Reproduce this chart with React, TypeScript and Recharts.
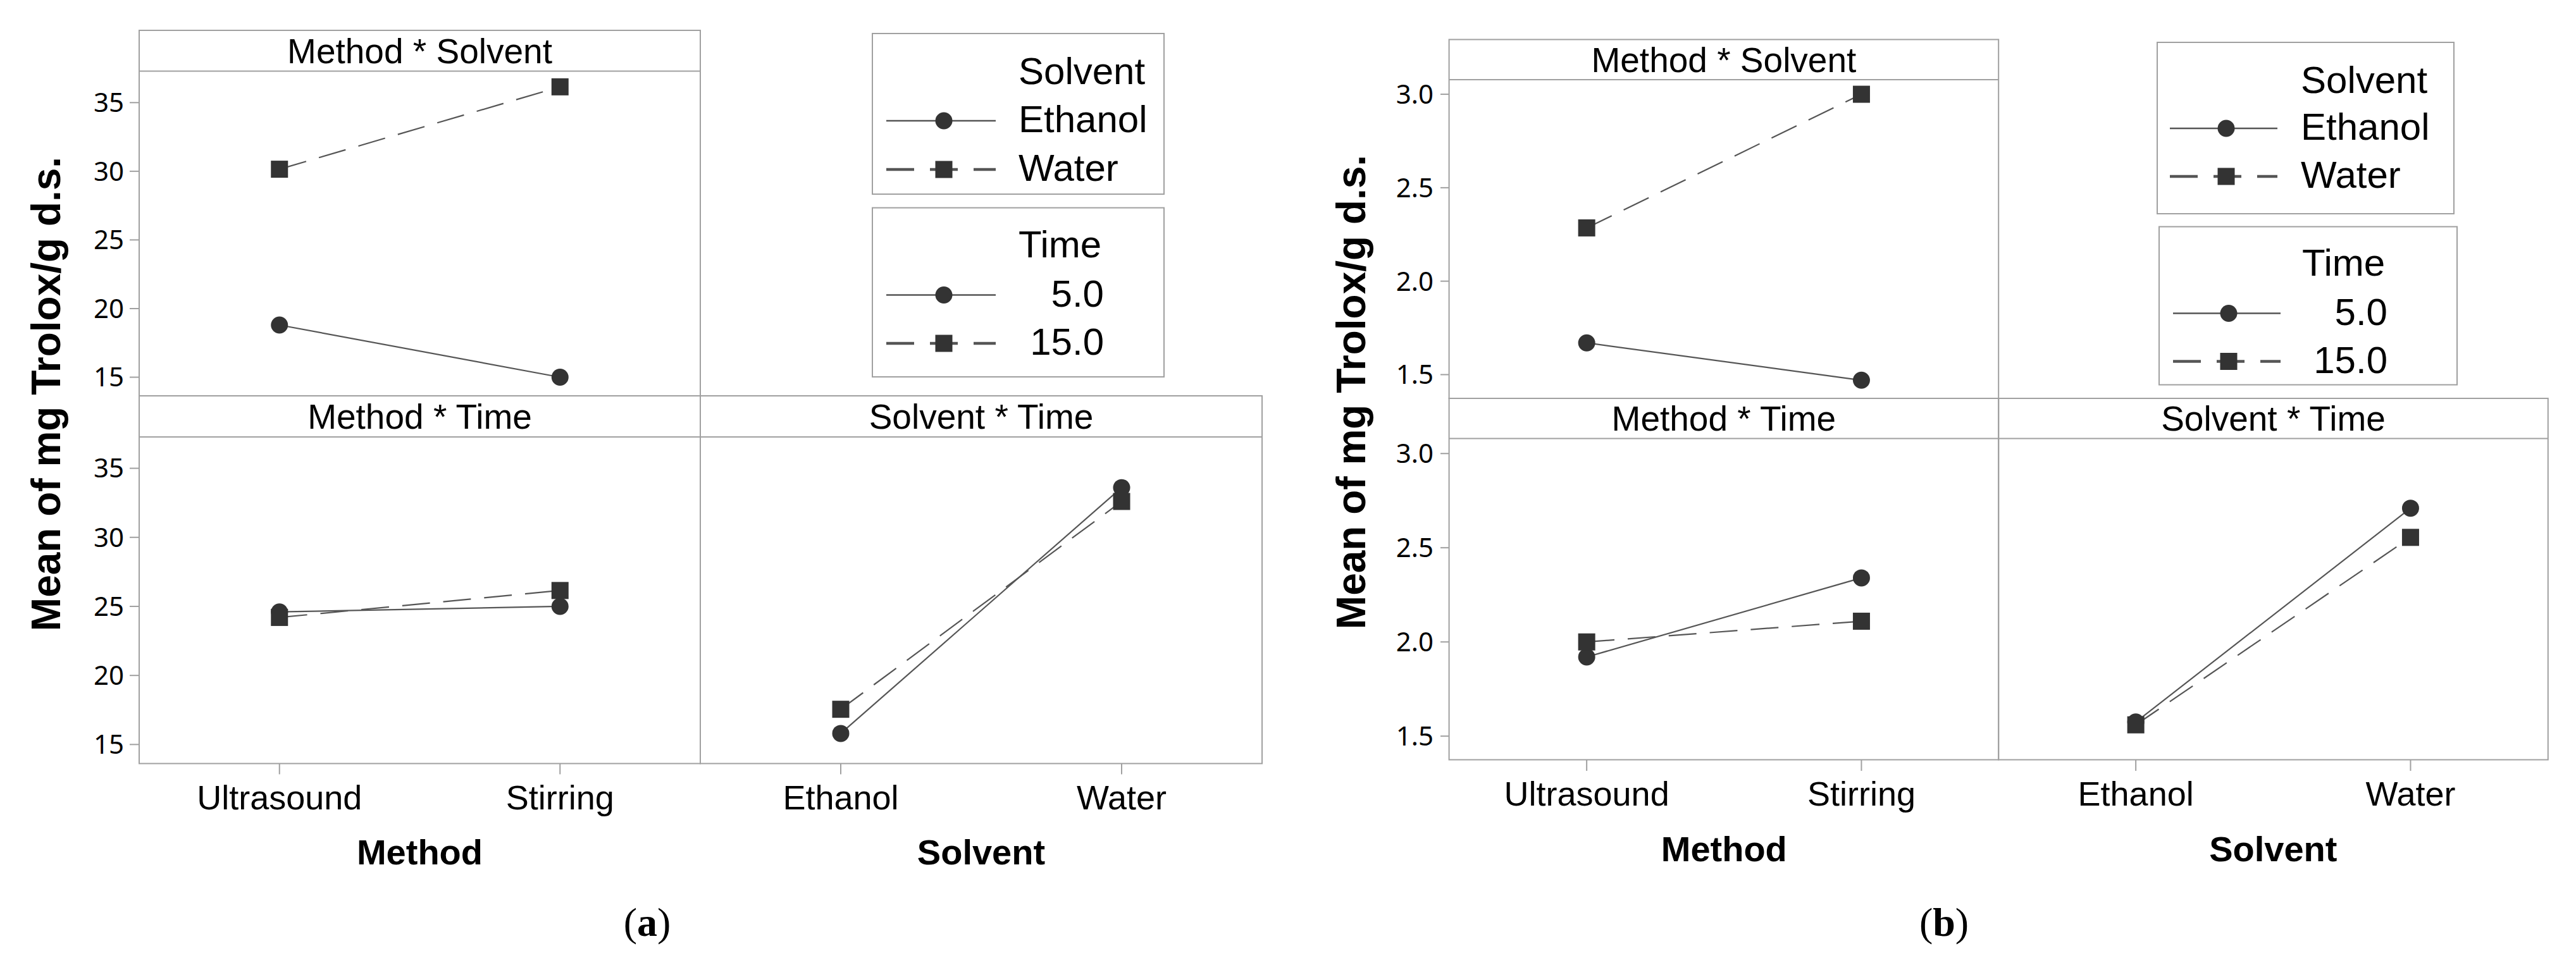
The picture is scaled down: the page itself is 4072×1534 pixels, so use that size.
import React from "react";
import { LineChart, Line, XAxis, YAxis } from "recharts";

// categories
const METHODS = ["Ultrasound", "Stirring"];
const SOLVENTS = ["Ethanol", "Water"];

// (a) means, mg Trolox/g d.s.
const A_MS_ETHANOL = [18.8, 15.0];
const A_MS_WATER = [30.15, 36.15];
const A_MT_T5 = [24.6, 25.0];
const A_MT_T15 = [24.2, 26.15];
const A_ST_T5 = [15.8, 33.6];
const A_ST_T15 = [17.55, 32.6];

// (b)
const B_MS_ETHANOL = [1.67, 1.47];
const B_MS_WATER = [2.285, 3.0];
const B_MT_T5 = [1.92, 2.34];
const B_MT_T15 = [2.0, 2.11];
const B_ST_T5 = [1.575, 2.71];
const B_ST_T15 = [1.56, 2.555];

const A_TICKS = [15, 20, 25, 30, 35];
const B_TICKS = [1.5, 2.0, 2.5, 3.0];
const A_DOMAIN = [13.62, 37.27];
const B_DOMAIN = [1.373, 3.078];

const SOLVENT_LEGEND = ["Ethanol", "Water"];
const TIME_LEGEND = ["5.0", "15.0"];

const SANS = "'Liberation Sans', Arial, sans-serif";
const TICKFONT = "'Noto Sans', 'Liberation Sans', sans-serif";
const FRAME = "#a0a0a0";
const LINE = "#555555";
const MARK = "#333333";
const DASH = "44 21";

const rows = (cats: string[], s1: number[], s2: number[]) =>
  cats.map((cat, i) => ({ cat, s1: s1[i], s2: s2[i] }));

const circleDot = (p: any) =>
  p.cx == null ? null : <circle key={`c${p.index}`} cx={p.cx} cy={p.cy} r={13.5} fill={MARK} />;
const squareDot = (p: any) =>
  p.cx == null ? null : (
    <rect key={`s${p.index}`} x={p.cx - 13.5} y={p.cy - 13.5} width={27} height={27} fill={MARK} />
  );

type PanelProps = {
  left: number;
  top: number;
  width: number;
  height: number;
  data: any[];
  domain: number[];
  ticks: number[];
  fmt: (v: number) => string;
  showY: boolean;
  showX: boolean;
  xTitle?: string;
  yW: number;
  ySize: number;
  yMargin: number;
};

// room above the plot so the top tick label isn't clipped by the svg
const PAD_TOP = 40;

function Panel(p: PanelProps) {
  const xH = 200;
  const chartLeft = p.showY ? p.left - p.yW : p.left;
  const chartW = p.width + (p.showY ? p.yW : 0);
  const chartH = PAD_TOP + p.height + (p.showX ? xH : 0);
  return (
    <div style={{ position: "absolute", left: chartLeft, top: p.top - PAD_TOP, width: chartW, height: chartH }}>
      <LineChart width={chartW} height={chartH} data={p.data} margin={{ top: PAD_TOP, right: 0, bottom: 0, left: 0 }}>
        <XAxis
          dataKey="cat"
          type="category"
          scale="band"
          hide={!p.showX}
          height={xH}
          interval={0}
          axisLine={false}
          tickLine={{ stroke: FRAME, strokeWidth: 2 }}
          tickSize={17}
          tickMargin={17}
          tick={{ fontSize: 54, fill: "#000", fontFamily: SANS }}
          label={
            p.xTitle
              ? {
                  value: p.xTitle,
                  position: "insideTop",
                  offset: 120,
                  fontSize: 56,
                  fontWeight: "bold",
                  fill: "#000",
                  fontFamily: SANS,
                }
              : undefined
          }
        />
        <YAxis
          type="number"
          domain={p.domain}
          ticks={p.ticks}
          allowDataOverflow
          hide={!p.showY}
          width={p.yW}
          axisLine={false}
          tickLine={{ stroke: FRAME, strokeWidth: 2 }}
          tickSize={p.ySize}
          tickMargin={p.yMargin}
          tick={{ fontSize: 42, fill: "#000", fontFamily: TICKFONT }}
          tickFormatter={p.fmt}
        />
        <Line
          type="linear"
          dataKey="s1"
          stroke={LINE}
          strokeWidth={2.2}
          dot={circleDot}
          activeDot={false}
          isAnimationActive={false}
        />
        <Line
          type="linear"
          dataKey="s2"
          stroke={LINE}
          strokeWidth={2.2}
          strokeDasharray={DASH}
          dot={squareDot}
          activeDot={false}
          isAnimationActive={false}
        />
      </LineChart>
    </div>
  );
}

type Fig = {
  L: number;
  M: number;
  R: number;
  h1: number;
  h1b: number;
  r1: number;
  h2b: number;
  r2: number;
  yLabelX: number;
  yLabelY: number;
  tag: string;
  tagX: number;
  tagY: number;
};

const FIG_A: Fig = { L: 220, M: 1107, R: 1995, h1: 48, h1b: 112.5, r1: 626, h2b: 691, r2: 1207.5, yLabelX: 73, yLabelY: 623, tag: "a", tagX: 1023, tagY: 1458 };
const FIG_B: Fig = { L: 2290.6, M: 3159.2, R: 4027.8, h1: 62.5, h1b: 126, r1: 630, h2b: 693.5, r2: 1201.5, yLabelX: 2136, yLabelY: 620, tag: "b", tagX: 3073, tagY: 1458 };

function Frames({ f }: { f: Fig }) {
  const st = { stroke: FRAME, strokeWidth: 2, fill: "none" };
  const title = (txt: string, cx: number, cy: number) => (
    <text x={cx} y={cy + 19.5} textAnchor="middle" fontSize={55} fontFamily={SANS} fill="#000">
      {txt}
    </text>
  );
  return (
    <g>
      <rect x={f.L} y={f.h1} width={f.M - f.L} height={f.r1 - f.h1} {...st} />
      <line x1={f.L} x2={f.M} y1={f.h1b} y2={f.h1b} {...st} />
      <rect x={f.L} y={f.r1} width={f.M - f.L} height={f.r2 - f.r1} {...st} />
      <rect x={f.M} y={f.r1} width={f.R - f.M} height={f.r2 - f.r1} {...st} />
      <line x1={f.L} x2={f.R} y1={f.h2b} y2={f.h2b} {...st} />
      {title("Method * Solvent", (f.L + f.M) / 2, (f.h1 + f.h1b) / 2)}
      {title("Method * Time", (f.L + f.M) / 2, (f.r1 + f.h2b) / 2)}
      {title("Solvent * Time", (f.M + f.R) / 2, (f.r1 + f.h2b) / 2)}
      <text
        transform={`translate(${f.yLabelX},${f.yLabelY}) rotate(-90)`}
        textAnchor="middle"
        y={22}
        fontSize={64}
        fontWeight="bold"
        fontFamily={SANS}
        fill="#000"
      >
        Mean of mg Trolox/g d.s.
      </text>
      <text x={f.tagX} y={f.tagY + 22} textAnchor="middle" fontSize={64} fontFamily="'Liberation Serif', serif" fill="#000">
        (<tspan fontWeight="bold">{f.tag}</tspan>)
      </text>
    </g>
  );
}

type LegendLayout = {
  x: number;
  y: number;
  w: number;
  h: number;
  titleY: number;
  rowY: number[];
  lx1: number;
  lx2: number;
  mx: number;
  textX: number;
  rightAlign: boolean;
};

function LegendBox({ title, items, l }: { title: string; items: string[]; l: LegendLayout }) {
  return (
    <g>
      <rect x={l.x} y={l.y} width={l.w} height={l.h} stroke={FRAME} strokeWidth={2} fill="#fff" />
      <text x={l.rightAlign ? l.textX - 135 : l.textX} y={l.titleY + 21} fontSize={60} fontFamily={SANS} fill="#000">
        {title}
      </text>
      {items.map((name, i) => {
        const cy = l.rowY[i];
        return (
          <g key={name}>
            {i === 0 ? (
              <line x1={l.lx1} x2={l.lx2} y1={cy} y2={cy} stroke={LINE} strokeWidth={2.3} />
            ) : (
              <line x1={l.lx1} x2={l.lx2} y1={cy} y2={cy} stroke={LINE} strokeWidth={4.7} strokeDasharray="44 25" />
            )}
            {i === 0 ? (
              <circle cx={l.mx} cy={cy} r={13.5} fill={MARK} />
            ) : (
              <rect x={l.mx - 13.5} y={cy - 13.5} width={27} height={27} fill={MARK} />
            )}
            <text
              x={l.textX}
              y={cy + 18}
              textAnchor={l.rightAlign ? "end" : "start"}
              fontSize={60}
              fontFamily={SANS}
              fill="#000"
            >
              {name}
            </text>
          </g>
        );
      })}
    </g>
  );
}

const LEG_A_SOLV: LegendLayout = { x: 1379, y: 53, w: 461, h: 254, titleY: 111.6, rowY: [191, 268], lx1: 1401, lx2: 1574, mx: 1492, textX: 1610, rightAlign: false };
const LEG_A_TIME: LegendLayout = { x: 1379, y: 328.6, w: 461, h: 267.4, titleY: 386, rowY: [466.5, 543], lx1: 1401, lx2: 1574, mx: 1492, textX: 1745, rightAlign: true };
const LEG_B_SOLV: LegendLayout = { x: 3410, y: 67, w: 469, h: 271, titleY: 126, rowY: [203, 279], lx1: 3430, lx2: 3600, mx: 3519, textX: 3637, rightAlign: false };
const LEG_B_TIME: LegendLayout = { x: 3413, y: 358.5, w: 471, h: 250, titleY: 415, rowY: [495.5, 571.5], lx1: 3435, lx2: 3605, mx: 3523, textX: 3774, rightAlign: true };

const fmtA = (v: number) => String(v);
const fmtB = (v: number) => v.toFixed(1);

function Figure({ f, ms, mt, st, domain, ticks, fmt, ySize, yMargin }: any) {
  return (
    <>
      <Panel left={f.L} top={f.h1b} width={f.M - f.L} height={f.r1 - f.h1b} data={ms} domain={domain} ticks={ticks} fmt={fmt} showY showX={false} yW={220} ySize={ySize} yMargin={yMargin} />
      <Panel left={f.L} top={f.h2b} width={f.M - f.L} height={f.r2 - f.h2b} data={mt} domain={domain} ticks={ticks} fmt={fmt} showY showX xTitle="Method" yW={220} ySize={ySize} yMargin={yMargin} />
      <Panel left={f.M} top={f.h2b} width={f.R - f.M} height={f.r2 - f.h2b} data={st} domain={domain} ticks={ticks} fmt={fmt} showY={false} showX xTitle="Solvent" yW={220} ySize={ySize} yMargin={yMargin} />
    </>
  );
}

export default function App() {
  return (
    <div style={{ position: "absolute", left: 0, top: 0, width: 4072, height: 1534, background: "#fff", overflow: "hidden" }}>
      <Figure
        f={FIG_A}
        ms={rows(METHODS, A_MS_ETHANOL, A_MS_WATER)}
        mt={rows(METHODS, A_MT_T5, A_MT_T15)}
        st={rows(SOLVENTS, A_ST_T5, A_ST_T15)}
        domain={A_DOMAIN}
        ticks={A_TICKS}
        fmt={fmtA}
        ySize={15}
        yMargin={9}
      />
      <Figure
        f={FIG_B}
        ms={rows(METHODS, B_MS_ETHANOL, B_MS_WATER)}
        mt={rows(METHODS, B_MT_T5, B_MT_T15)}
        st={rows(SOLVENTS, B_ST_T5, B_ST_T15)}
        domain={B_DOMAIN}
        ticks={B_TICKS}
        fmt={fmtB}
        ySize={14}
        yMargin={11}
      />
      <svg width={4072} height={1534} style={{ position: "absolute", left: 0, top: 0, pointerEvents: "none" }}>
        <Frames f={FIG_A} />
        <Frames f={FIG_B} />
        <LegendBox title="Solvent" items={SOLVENT_LEGEND} l={LEG_A_SOLV} />
        <LegendBox title="Time" items={TIME_LEGEND} l={LEG_A_TIME} />
        <LegendBox title="Solvent" items={SOLVENT_LEGEND} l={LEG_B_SOLV} />
        <LegendBox title="Time" items={TIME_LEGEND} l={LEG_B_TIME} />
      </svg>
    </div>
  );
}
